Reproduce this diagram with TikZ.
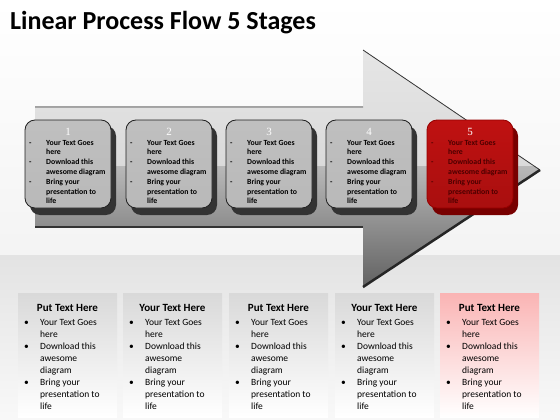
\documentclass[tikz,border=0pt]{standalone}
\usepackage{fontspec}
\setmainfont{Carlito}
\newfontfamily\numfont{Liberation Serif}
\usepackage{tikz}
\usetikzlibrary{positioning}

\definecolor{boxred}{RGB}{225,20,20}
\definecolor{darkred}{RGB}{150,0,0}
\definecolor{panelpink}{RGB}{250,180,180}

\newcommand{\stageitems}{\begin{tabular}{@{}p{17pt}@{}l@{}}
-&Your Text Goes\\ &here\\
-&Download this\\ &awesome diagram\\
-&Bring your\\ &presentation to\\ &life\end{tabular}}
\newcommand{\panelitems}{\begin{tabular}{@{}p{16pt}@{}l@{}}
\textbullet&Your Text Goes\\ &here\\
\textbullet&Download this\\ &awesome\\ &diagram\\
\textbullet&Bring your\\ &presentation to\\ &life\end{tabular}}

\tikzset{
  greyface/.style={draw=gray!25!black,line width=0.8pt,rounded corners=10pt,
    top color=gray!50,middle color=gray!28,bottom color=gray!55},
  redface/.style={draw=darkred,line width=0.8pt,rounded corners=10pt,
    top color=boxred!85!black,middle color=boxred,bottom color=boxred!75!black},
  stagenum/.style={text=white,font=\numfont\fontsize{11}{12}\selectfont,inner sep=0pt},
  stagetext/.style={anchor=north west,inner sep=0pt,
    font=\bfseries\fontsize{7.8}{9.8}\selectfont},
  panelhead/.style={font=\bfseries\fontsize{11}{13}\selectfont,inner sep=0pt},
  paneltext/.style={anchor=north west,inner sep=0pt,
    font=\fontsize{9.5}{12}\selectfont}
}

\begin{document}
\begin{tikzpicture}[x=1pt,y=-1pt]
\useasboundingbox (0,0) rectangle (560,420);
\fill[top color=white,bottom color=gray!9] (0,0) rectangle (560,255);
\fill[top color=gray!22,bottom color=gray!5] (0,255) rectangle (560,420);

\node[anchor=base west,inner sep=0pt,font=\bfseries\fontsize{26}{30}\selectfont] (title) at (10,30) {Linear Process Flow 5 Stages};

% big arrow
\coordinate (tip) at (540,170);
\fill[top color=gray!20,bottom color=gray!38] (35,107) -- (363,107) -- (363,50) -- (tip) -- (363,287) -- (363,227) -- (35,227) -- cycle;
\begin{scope}
\clip (35,107) -- (363,107) -- (363,50) -- (tip) -- (363,287) -- (363,227) -- (35,227) -- cycle;
\fill[top color=gray!55,bottom color=gray!75!black] (0,166) rectangle (560,290);
\end{scope}
\draw[gray!45!black,line width=0.8pt] (35,107) -- (363,107) (363,50) -- (tip);
\draw[black!85,line width=2.5pt] (tip) -- (363,287);
\draw[black!80,line width=1.3pt] (35,227) -- (363,227);

% stage boxes
\foreach \i/\x in {1/25,2/126,3/226,4/326} {
  \fill[gray!40!black,rounded corners=10pt] (\x+5,126) rectangle ++(86,89);
  \draw[greyface] (\x,120) rectangle ++(86,88);
  \node[stagenum] (num\i) at (\x+43,132) {\i};
  \node[stagetext] (txt\i) at (\x+4,138) {\stageitems};
}
\fill[darkred!80!black,rounded corners=10pt] (432,126) rectangle ++(86,89);
\draw[redface] (427,120) rectangle ++(86,88);
\node[stagenum] (num5) at (470,132) {5};
\node[stagetext,text=black!70!red] (txt5) at (431,138) {\stageitems};

% text panels
\foreach \i/\x/\head in {1/18/Put,2/123/Your,3/229/Put,4/335/Your} {
  \fill[top color=gray!30,bottom color=white] (\x,293) rectangle ++(99,124);
  \node[panelhead] (head\i) at (\x+49.5,308) {\head{} Text Here};
  \node[paneltext] (items\i) at (\x+6,317) {\panelitems};
}
\fill[top color=panelpink,bottom color=white] (440,293) rectangle ++(99,124);
\node[panelhead] (head5) at (489.5,308) {Put Text Here};
\node[paneltext] (items5) at (446,317) {\panelitems};
\end{tikzpicture}
\end{document}
